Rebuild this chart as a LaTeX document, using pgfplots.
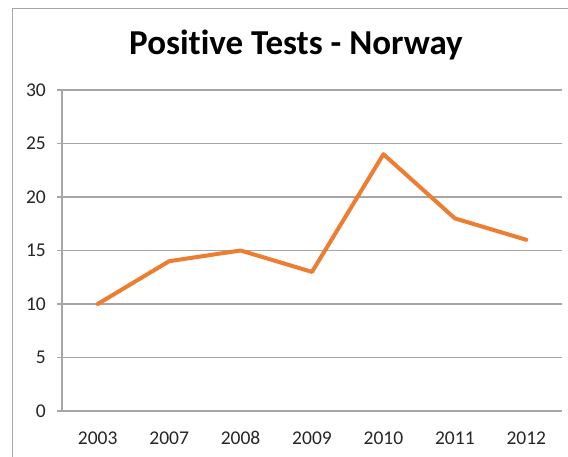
\documentclass[border=0pt]{standalone}
\usepackage{pgfplots}
\pgfplotsset{compat=1.18}
\usepackage{fontspec}
\setmainfont{Carlito}[Ligatures={NoCommon,NoDiscretionary}]
\definecolor{lineorange}{HTML}{ED7D31}
\definecolor{gridgray}{HTML}{A6A6A6}
\definecolor{ticktext}{HTML}{262626}
\begin{document}
\begin{tikzpicture}[x=1bp,y=1bp]
\useasboundingbox (0,0) rectangle (568,457);
\fill[white] (0,0) rectangle (568,457);
\draw[gridgray, line width=1bp] (12.5,-5) -- (12.5,448.5) -- (575,448.5);
\node[anchor=base, font=\fontsize{35bp}{42bp}\selectfont\bfseries, inner sep=0] at (296,402) {Positive Tests - Norway};
\begin{axis}[
  at={(62bp,46bp)}, anchor=south west,
  scale only axis, width=500bp, height=321bp,
  xmin=-0.5, xmax=6.5, ymin=0, ymax=30,
  xtick={0,...,6},
  xticklabels={2003,2007,2008,2009,2010,2011,2012},
  minor xtick={-0.5,0.5,...,6.5},
  ytick={0,5,...,30},
  axis x line*=bottom, axis y line*=left,
  axis line style={draw=gridgray, line width=1.2bp, -},
  ymajorgrids,
  grid style={draw=gridgray, line width=1.2bp},
  xtick style={draw=none},
  minor tick length=5bp, major tick length=5bp,
  tick align=outside,
  tick style={draw=gridgray, line width=1.2bp},
  minor tick style={draw=gridgray, line width=1.2bp},
  tick label style={font=\fontsize{19.5bp}{22bp}\selectfont, text=ticktext},
  /pgf/number format/assume math mode=true,
  xticklabel style={anchor=base, text depth=0pt, yshift=-29bp},
  yticklabel style={anchor=east, xshift=-11bp, text height=12.4bp, text depth=0pt, inner sep=0pt},
]
\addplot[lineorange, line width=4bp, line join=round, line cap=round, mark=none]
  coordinates {(0,10) (1,14) (2,15) (3,13) (4,24) (5,18) (6,16)};
\end{axis}
\end{tikzpicture}
\end{document}
